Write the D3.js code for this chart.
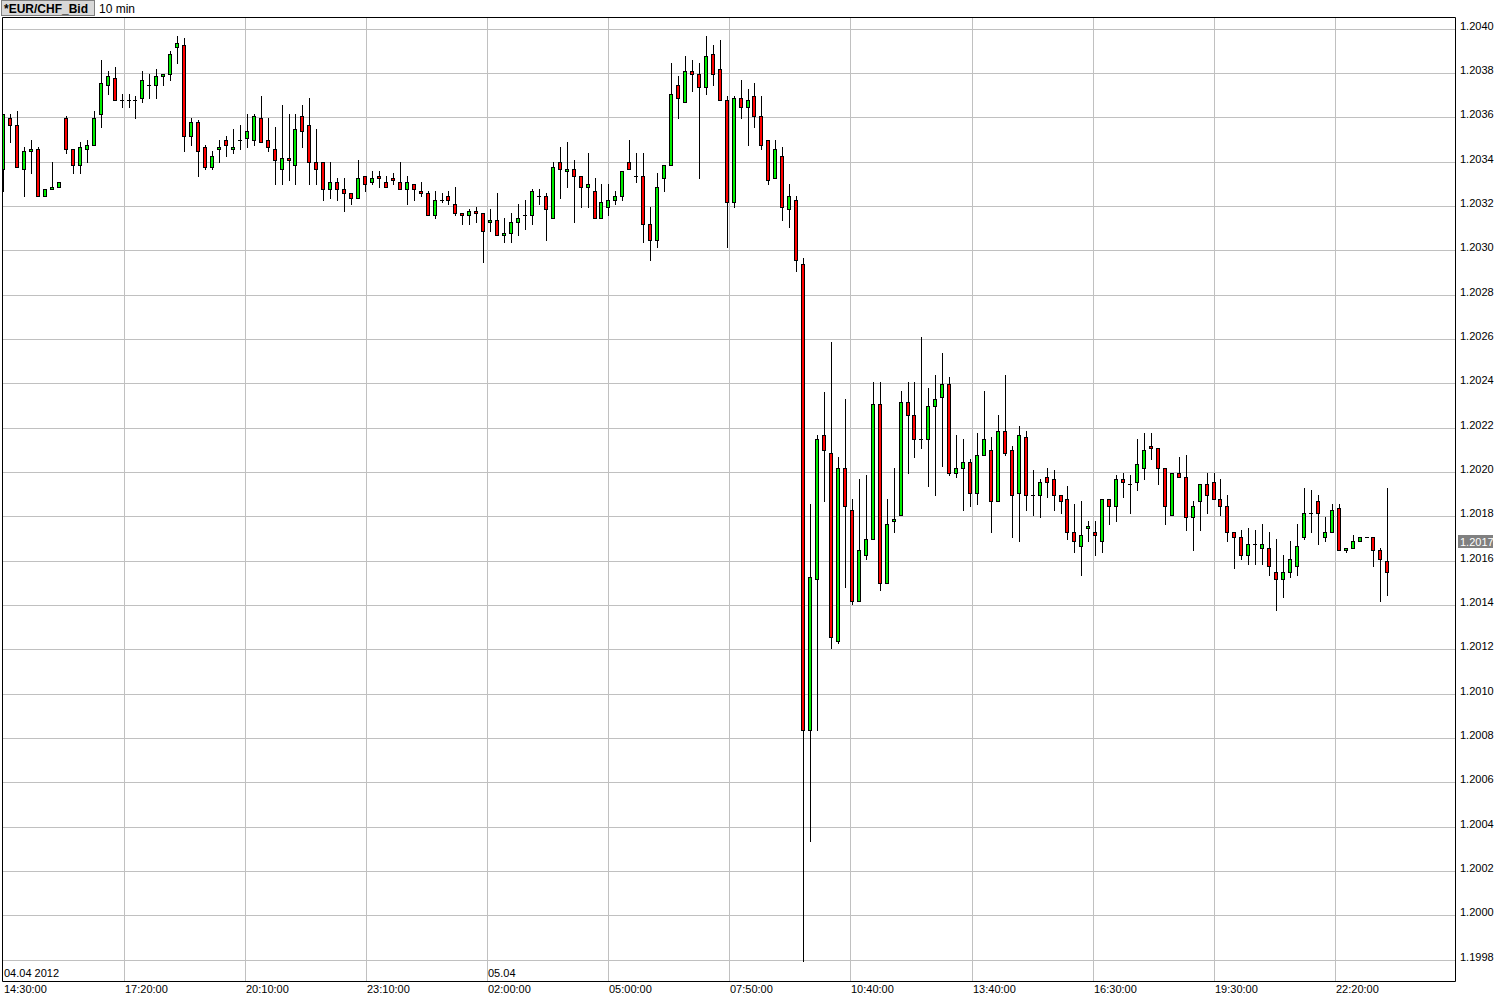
<!DOCTYPE html>
<html><head><meta charset="utf-8">
<script src="https://cdn.jsdelivr.net/npm/d3@7"></script>
<style>body{margin:0;background:#fff}svg{display:block}</style>
</head><body>
<svg id="c" width="1500" height="998"></svg>
<script>
// ---- data: 10-minute EUR/CHF bid candles, 04.04.2012 14:30 onwards ----
const openP = [
1.20337,1.20360,1.20357,1.20337,1.20345,1.20346,1.20325,1.20328,1.20329,1.20360,
1.20346,1.20339,1.20346,1.20348,1.20362,1.20375,1.20378,1.20368,1.20368,1.20368,
1.20369,1.20375,1.20375,1.20379,1.20380,1.20392,1.20393,1.20352,1.20358,1.20347,
1.20338,1.20346,1.20350,1.20346,1.20350,1.20351,1.20350,1.20360,1.20350,1.20346,
1.20337,1.20342,1.20339,1.20361,1.20357,1.20340,1.20340,1.20328,1.20331,1.20328,
1.20326,1.20324,1.20334,1.20331,1.20334,1.20331,1.20333,1.20331,1.20328,1.20330,
1.20327,1.20326,1.20316,1.20323,1.20325,1.20321,1.20317,1.20316,1.20318,1.20317,
1.20313,1.20314,1.20307,1.20308,1.20313,1.20316,1.20316,1.20325,1.20325,1.20315,
1.20340,1.20336,1.20337,1.20334,1.20329,1.20327,1.20315,1.20320,1.20323,1.20325,
1.20340,1.20334,1.20334,1.20312,1.20305,1.20333,1.20339,1.20375,1.20367,1.20381,
1.20380,1.20374,1.20389,1.20382,1.20368,1.20322,1.20369,1.20365,1.20370,1.20361,
1.20350,1.20333,1.20343,1.20319,1.20323,1.20294,1.20084,1.20152,1.20217,1.20209,
1.20124,1.20202,1.20183,1.20142,1.20163,1.20170,1.20231,1.20150,1.20178,1.20181,
1.20232,1.20226,1.20215,1.20215,1.20230,1.20234,1.20240,1.20200,1.20202,1.20205,
1.20191,1.20208,1.20210,1.20187,1.20219,1.20210,1.20191,1.20216,1.20190,1.20190,
1.20198,1.20197,1.20190,1.20188,1.20173,1.20167,1.20175,1.20173,1.20169,1.20188,
1.20185,1.20197,1.20195,1.20196,1.20202,1.20212,1.20211,1.20202,1.20181,1.20200,
1.20198,1.20180,1.20187,1.20195,1.20196,1.20188,1.20185,1.20173,1.20171,1.20163,
1.20168,1.20166,1.20166,1.20155,1.20152,1.20155,1.20158,1.20171,1.20182,1.20187,
1.20171,1.20173,1.20184,1.20165,1.20166,1.20169,1.20171,1.20171,1.20165,1.20160];
const highP = [
1.20362,1.20362,1.20363,1.20347,1.20350,1.20347,1.20328,1.20340,1.20331,1.20361,
1.20346,1.20349,1.20350,1.20363,1.20386,1.20381,1.20383,1.20371,1.20371,1.20370,
1.20381,1.20380,1.20382,1.20380,1.20390,1.20397,1.20396,1.20360,1.20359,1.20348,
1.20345,1.20350,1.20352,1.20355,1.20357,1.20362,1.20362,1.20370,1.20360,1.20356,
1.20366,1.20362,1.20362,1.20366,1.20369,1.20355,1.20340,1.20340,1.20333,1.20333,
1.20326,1.20341,1.20334,1.20336,1.20336,1.20334,1.20335,1.20340,1.20334,1.20330,
1.20331,1.20327,1.20327,1.20326,1.20327,1.20329,1.20317,1.20319,1.20320,1.20317,
1.20319,1.20326,1.20315,1.20317,1.20321,1.20323,1.20328,1.20328,1.20326,1.20340,
1.20347,1.20349,1.20341,1.20334,1.20344,1.20333,1.20330,1.20330,1.20327,1.20336,
1.20350,1.20344,1.20344,1.20320,1.20335,1.20339,1.20385,1.20379,1.20388,1.20386,
1.20385,1.20397,1.20393,1.20395,1.20370,1.20370,1.20377,1.20373,1.20376,1.20370,
1.20350,1.20350,1.20347,1.20330,1.20325,1.20297,1.20186,1.20217,1.202365,1.20259,
1.20207,1.20233,1.20188,1.20197,1.20199,1.20241,1.20241,1.20188,1.20202,1.20237,
1.20241,1.20241,1.20261,1.20238,1.20244,1.20254,1.20243,1.20217,1.20215,1.20206,
1.20218,1.20237,1.20216,1.20226,1.20244,1.20212,1.20221,1.20219,1.20201,1.20197,
1.20202,1.20201,1.20190,1.20194,1.20186,1.20187,1.20178,1.20178,1.20188,1.20188,
1.20199,1.20200,1.20199,1.20215,1.20218,1.20218,1.20211,1.20202,1.20200,1.20207,
1.20208,1.20187,1.20195,1.20200,1.20200,1.20197,1.20190,1.20173,1.20174,1.20175,
1.20174,1.20177,1.20173,1.20170,1.20163,1.20169,1.20177,1.20193,1.20192,1.20190,
1.20180,1.20186,1.20186,1.20166,1.20172,1.20171,1.20171,1.20171,1.20166,1.20193];
const lowP = [
1.20327,1.20349,1.20338,1.20325,1.20335,1.20325,1.20325,1.20328,1.20329,1.20344,
1.20335,1.20335,1.20340,1.20348,1.20356,1.20371,1.20368,1.20365,1.20365,1.20360,
1.20367,1.20369,1.20369,1.20375,1.20377,1.20385,1.20345,1.20348,1.20334,1.20337,
1.20337,1.20340,1.20343,1.20344,1.20346,1.20347,1.20348,1.20349,1.20345,1.20330,
1.20330,1.20332,1.20330,1.20347,1.20330,1.20330,1.20323,1.20324,1.20323,1.20318,
1.20321,1.20324,1.20327,1.20330,1.20329,1.20329,1.20330,1.20328,1.20321,1.20323,
1.20325,1.20316,1.20315,1.20322,1.20321,1.20316,1.20312,1.20312,1.20313,1.20295,
1.20309,1.20307,1.20304,1.20304,1.20307,1.20310,1.20312,1.20321,1.20305,1.20315,
1.20324,1.20329,1.20313,1.20320,1.20320,1.20315,1.20315,1.20316,1.20321,1.20323,
1.20337,1.20331,1.20304,1.20296,1.20302,1.20327,1.20339,1.20360,1.20367,1.20372,
1.20333,1.20371,1.20375,1.20368,1.20302,1.20320,1.20360,1.20348,1.20356,1.20346,
1.20330,1.20333,1.20314,1.20311,1.20291,1.199795,1.20034,1.20084,1.20187,1.20121,
1.20123,1.201485,1.201406,1.20142,1.20161,1.20170,1.20147,1.20150,1.20173,1.20181,
1.20200,1.20207,1.20211,1.20194,1.20190,1.20203,1.20199,1.20198,1.20183,1.20185,
1.20186,1.20208,1.20173,1.20187,1.20208,1.20171,1.20169,1.20183,1.20181,1.20180,
1.20189,1.20183,1.20182,1.20170,1.20164,1.20154,1.20169,1.20163,1.20164,1.20177,
1.20178,1.20189,1.20182,1.20192,1.20197,1.20206,1.20195,1.20177,1.20181,1.20198,
1.20174,1.20165,1.20174,1.20182,1.20188,1.20181,1.20169,1.20157,1.20161,1.20159,
1.20159,1.20159,1.20154,1.20138,1.20144,1.20153,1.20154,1.20170,1.20173,1.20168,
1.20169,1.20173,1.20165,1.20164,1.20166,1.20169,1.20171,1.20158,1.20142,1.20145];
const closeP = [
1.20362,1.20357,1.20338,1.20345,1.20346,1.20325,1.20328,1.20329,1.20331,1.20346,
1.20339,1.20347,1.20348,1.20360,1.20376,1.20379,1.20368,1.20368,1.20368,1.20368,
1.20377,1.20375,1.20379,1.20380,1.20389,1.20394,1.20352,1.20358,1.20345,1.20338,
1.20343,1.20347,1.20348,1.20347,1.20350,1.20354,1.20361,1.20349,1.20347,1.20341,
1.20342,1.20341,1.20355,1.20354,1.20340,1.20337,1.20328,1.20331,1.20328,1.20326,
1.20324,1.20333,1.20330,1.20333,1.20333,1.20329,1.20332,1.20328,1.20331,1.20328,
1.20326,1.20316,1.20323,1.20323,1.20323,1.20317,1.20316,1.20318,1.20317,1.20309,
1.20314,1.20307,1.20308,1.20313,1.20315,1.20316,1.20327,1.20325,1.20319,1.20338,
1.20337,1.20337,1.20334,1.20329,1.20330,1.20315,1.20322,1.20323,1.20325,1.20336,
1.20337,1.20334,1.20312,1.20305,1.20329,1.20339,1.20371,1.20369,1.20381,1.20380,
1.20374,1.20388,1.20380,1.20368,1.20322,1.20369,1.20365,1.20368,1.20361,1.20348,
1.20332,1.20346,1.20320,1.20325,1.20296,1.20084,1.20153,1.20215,1.20210,1.20126,
1.20202,1.20185,1.20142,1.20165,1.20170,1.20231,1.20150,1.20177,1.20179,1.20232,
1.20226,1.20215,1.20215,1.20230,1.20233,1.20240,1.20200,1.20202,1.20205,1.20191,
1.20208,1.20215,1.20187,1.20219,1.20209,1.20190,1.20217,1.20190,1.20190,1.20196,
1.20196,1.20190,1.20187,1.20173,1.20169,1.20172,1.20176,1.20172,1.20188,1.20185,
1.20197,1.20196,1.20195,1.20204,1.20210,1.20211,1.20202,1.20185,1.20200,1.20198,
1.20180,1.20185,1.20195,1.20190,1.20188,1.20185,1.20173,1.20171,1.20163,1.20168,
1.20168,1.20168,1.20158,1.20152,1.20155,1.20161,1.20167,1.20182,1.20182,1.20182,
1.20173,1.20183,1.20165,1.20166,1.20169,1.20171,1.20171,1.20165,1.20161,1.20155];

// time-axis gridlines (candle index position) and their labels
const timeTickIdx = [0, 17.41, 34.82, 52.23, 69.64, 87.05, 104.46, 121.87, 139.28, 156.69, 174.1, 191.51];
const timeTickLabels = ["14:30:00","17:20:00","20:10:00","23:10:00","02:00:00","05:00:00","07:50:00","10:40:00","13:40:00","16:30:00","19:30:00","22:20:00"];
const dateTickIdx = [0, 69.64];
const dateTickLabels = ["04.04 2012","05.04"];
// price axis
const priceTicks = [1.1998,1.2000,1.2002,1.2004,1.2006,1.2008,1.2010,1.2012,1.2014,1.2016,1.2018,1.2020,1.2022,1.2024,1.2026,1.2028,1.2030,1.2032,1.2034,1.2036,1.2038,1.2040];
const lastPrice = 1.2017;
const symbol = "*EUR/CHF_Bid";
const period = "10 min";

// ---- drawing ----
const svg = d3.select("#c");
const L = 2.5, T = 17.5, R = 1455.5, B = 981.5;
const FONT = "'Liberation Sans', Arial, sans-serif";
const x = d3.scaleLinear().domain([0, 199]).range([3.35, 1387.4]);
const y = d3.scaleLinear().domain([1.1998, 1.2040]).range([960.3, 29.3]);
const pix = v => Math.floor(v) + 0.5;

svg.append("rect").attr("width",1500).attr("height",998).attr("fill","#fff");

svg.append("defs").append("clipPath").attr("id","plotclip")
  .append("rect").attr("x",3).attr("y",18).attr("width",R-3.5).attr("height",B-18.5);

// grid
const grid = svg.append("g").attr("stroke","#c0c0c0").attr("stroke-width",1);
grid.selectAll("line.h").data(priceTicks).join("line").attr("class","h")
  .attr("x1",L).attr("x2",R).attr("y1",d=>pix(y(d))).attr("y2",d=>pix(y(d)));
grid.selectAll("line.v").data(timeTickIdx.slice(1)).join("line").attr("class","v")
  .attr("y1",T).attr("y2",B).attr("x1",d=>pix(x(d))).attr("x2",d=>pix(x(d)));

// candles
const candles = openP.map((o,i)=>({i, o, h:highP[i], l:lowP[i], c:closeP[i]}));
const cg = svg.append("g").attr("clip-path","url(#plotclip)");
const cx = d => Math.round(x(d.i));
cg.selectAll("line.wick").data(candles.filter(d=>d.h>d.l)).join("line").attr("class","wick")
  .attr("x1",d=>cx(d)+0.5).attr("x2",d=>cx(d)+0.5)
  .attr("y1",d=>Math.round(y(d.h))).attr("y2",d=>Math.round(y(d.l))+1)
  .attr("stroke","#000").attr("stroke-width",1);
const isBody = d => Math.abs(Math.round(y(d.o)) - Math.round(y(d.c))) >= 1;
cg.selectAll("rect.body").data(candles.filter(isBody)).join("rect").attr("class","body")
  .attr("x",d=>cx(d)-1.5).attr("width",3)
  .attr("y",d=>Math.round(y(Math.max(d.o,d.c)))+0.5)
  .attr("height",d=>Math.round(y(Math.min(d.o,d.c)))-Math.round(y(Math.max(d.o,d.c))))
  .attr("fill",d=>d.c>=d.o?"#00ee00":"#ff0000")
  .attr("stroke","#000").attr("stroke-width",1);
cg.selectAll("line.doji").data(candles.filter(d=>!isBody(d))).join("line").attr("class","doji")
  .attr("x1",d=>cx(d)-2).attr("x2",d=>cx(d)+2)
  .attr("y1",d=>Math.round(y(d.o))+0.5).attr("y2",d=>Math.round(y(d.o))+0.5)
  .attr("stroke","#000").attr("stroke-width",1);

// frame
svg.append("path").attr("d",`M${L},${T}H${R}V${B}H${L}Z`).attr("fill","none").attr("stroke","#000");

// price axis labels
svg.append("g").selectAll("text").data(priceTicks).join("text")
  .attr("x",1460).attr("y",d=>Math.floor(y(d))+1)
  .attr("font-family",FONT).attr("font-size",11).attr("fill","#000")
  .text(d=>d3.format(".4f")(d));

// last price marker
const lp = svg.append("g");
lp.append("rect").attr("x",1458).attr("y",Math.round(y(lastPrice))-4).attr("width",35).attr("height",13).attr("fill","#808080");
lp.append("text").attr("x",1460).attr("y",Math.round(y(lastPrice))+7)
  .attr("font-family",FONT).attr("font-size",11).attr("fill","#fff").text(d3.format(".4f")(lastPrice));

// time labels
svg.append("g").selectAll("text").data(timeTickIdx).join("text")
  .attr("x",(d,i)=>Math.floor(x(d))+ (i===0?1:1)).attr("y",993)
  .attr("font-family",FONT).attr("font-size",11).attr("fill","#000")
  .text((d,i)=>timeTickLabels[i]);
svg.append("g").selectAll("text").data(dateTickIdx).join("text")
  .attr("x",d=>Math.floor(x(d))+1).attr("y",977)
  .attr("font-family",FONT).attr("font-size",11).attr("fill","#000")
  .text((d,i)=>dateTickLabels[i]);

// title
svg.append("rect").attr("x",1.5).attr("y",0.5).attr("width",93).attr("height",15)
  .attr("fill","#d8d8d8").attr("stroke","#808080");
svg.append("text").attr("x",4).attr("y",12.5).attr("font-family",FONT).attr("font-size",12)
  .attr("font-weight","bold").attr("fill","#000").text(symbol);
svg.append("text").attr("x",99).attr("y",12.5).attr("font-family",FONT).attr("font-size",12)
  .attr("fill","#000").text(period);
</script>
</body></html>
